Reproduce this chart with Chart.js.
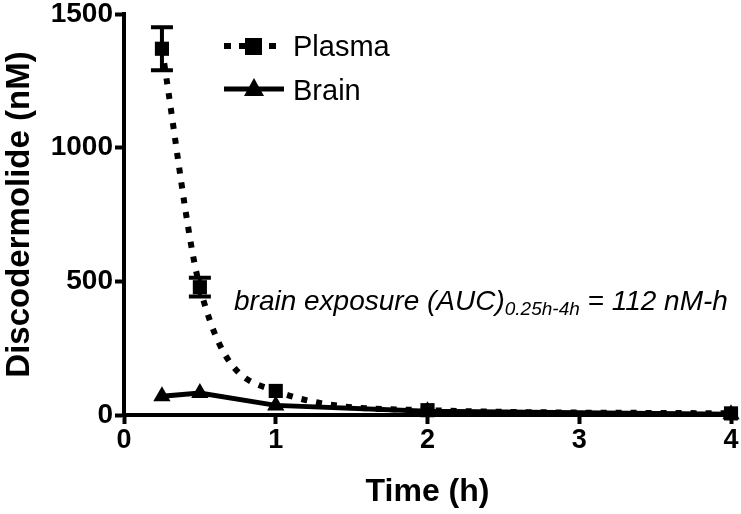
<!DOCTYPE html>
<html><head><meta charset="utf-8">
<script src="https://cdn.jsdelivr.net/npm/chart.js@4/dist/chart.umd.min.js"></script>
<style>html,body{margin:0;padding:0;background:#fff}#wrap{width:741px;height:514px}</style>
</head><body><div id="wrap"><canvas id="c" width="741" height="514"></canvas></div>
<script>
const times = [0.25, 0.5, 1, 2, 4];
const plasma = [1370, 478, 90, 18, 6];
const plasmaErr = [80, 35, 12, 4, 2];
const brain = [70, 82, 36, 14, 3];
const xTicks = [0, 1, 2, 3, 4];
const yTicks = [0, 500, 1000, 1500];
const seriesNames = ['Plasma', 'Brain'];
const annotation = {pre: 'brain exposure (AUC)', sub: '0.25h-4h', post: ' = 112 nM-h'};

const FONT = '"Liberation Sans", Arial, sans-serif';

const errorBars = {
  id: 'errorBars',
  afterDatasetsDraw(chart) {
    const ctx = chart.ctx, x = chart.scales.x, y = chart.scales.y;
    ctx.save();
    ctx.strokeStyle = '#000'; ctx.lineWidth = 4; ctx.lineCap = 'butt';
    times.forEach((t, i) => {
      const e = plasmaErr[i]; if (!e) return;
      const px = x.getPixelForValue(t);
      const top = y.getPixelForValue(plasma[i] + e), bot = y.getPixelForValue(plasma[i] - e);
      if (bot - top < 14) return;
      ctx.beginPath();
      ctx.moveTo(px, top); ctx.lineTo(px, bot);
      ctx.moveTo(px - 11, top); ctx.lineTo(px + 11, top);
      ctx.moveTo(px - 11, bot); ctx.lineTo(px + 11, bot);
      ctx.stroke();
    });
    ctx.restore();
  }
};

const legendAndText = {
  id: 'legendAndText',
  afterDraw(chart) {
    const ctx = chart.ctx;
    ctx.save();
    ctx.fillStyle = '#000'; ctx.strokeStyle = '#000';
    // Plasma legend
    ctx.lineWidth = 6; ctx.setLineDash([7, 8]);
    ctx.beginPath(); ctx.moveTo(224, 46); ctx.lineTo(284, 46); ctx.stroke();
    ctx.setLineDash([]);
    ctx.fillRect(245, 38, 17, 17);
    // Brain legend
    ctx.lineWidth = 5;
    ctx.beginPath(); ctx.moveTo(224, 89); ctx.lineTo(284, 89); ctx.stroke();
    ctx.beginPath(); ctx.moveTo(254, 78); ctx.lineTo(264, 96); ctx.lineTo(244, 96); ctx.closePath(); ctx.fill();
    ctx.font = '29px ' + FONT; ctx.textBaseline = 'alphabetic'; ctx.textAlign = 'left';
    ctx.fillText(seriesNames[0], 293, 56);
    ctx.fillText(seriesNames[1], 293, 100);
    // annotation
    let ax = 234, ay = 310;
    ctx.font = 'italic 28px ' + FONT;
    ctx.fillText(annotation.pre, ax, ay); ax += ctx.measureText(annotation.pre).width;
    ctx.font = 'italic 19px ' + FONT;
    ctx.fillText(annotation.sub, ax, ay + 5); ax += ctx.measureText(annotation.sub).width;
    ctx.font = 'italic 28px ' + FONT;
    ctx.fillText(annotation.post, ax, ay);
    ctx.restore();
  }
};

new Chart(document.getElementById('c'), {
  type: 'line',
  data: {
    datasets: [
      {
        label: seriesNames[0],
        data: times.map((t, i) => ({x: t, y: plasma[i]})),
        borderColor: '#000', backgroundColor: '#000',
        borderWidth: 6, borderDash: [6, 9],
        cubicInterpolationMode: 'monotone',
        pointStyle: 'rect', pointRadius: 10, pointBorderWidth: 0,
        order: 1
      },
      {
        label: seriesNames[1],
        data: times.map((t, i) => ({x: t, y: brain[i]})),
        borderColor: '#000', backgroundColor: '#000',
        borderWidth: 5, tension: 0,
        pointStyle: 'triangle', pointRadius: 10, pointBorderWidth: 0,
        order: 2
      }
    ]
  },
  options: {
    responsive: false, animation: false,
    clip: false,
    layout: {padding: {top: 14, right: 3, left: 0, bottom: 0}},
    plugins: {legend: {display: false}, tooltip: {enabled: false}},
    scales: {
      x: {
        type: 'linear', min: 0, max: 4,
        afterFit(s) { s.height = 99; s.paddingRight = 0; s.paddingLeft = 0; },
        afterBuildTicks(s) { s.ticks = xTicks.map(v => ({value: v})); },
        grid: {display: true, drawOnChartArea: false, drawTicks: true, tickLength: 9, tickWidth: 4, tickColor: '#000', color: '#000'},
        border: {display: true, color: '#000', width: 4},
        ticks: {color: '#000', font: {family: FONT, size: 27, weight: 'bold'}, padding: 0, maxRotation: 0, callback: v => String(v)},
        title: {display: true, text: 'Time (h)', color: '#000', font: {family: FONT, size: 32, weight: 'bold'}, padding: {top: 0, bottom: 3}}
      },
      y: {
        type: 'linear', min: 0, max: 1500,
        afterFit(s) { s.width = 124; s.paddingTop = 0; s.paddingBottom = 0; },
        afterBuildTicks(s) { s.ticks = yTicks.map(v => ({value: v})); },
        grid: {display: true, drawOnChartArea: false, drawTicks: true, tickLength: 9, tickWidth: 4, tickColor: '#000', color: '#000'},
        border: {display: true, color: '#000', width: 4},
        ticks: {color: '#000', font: {family: FONT, size: 28, weight: 'bold'}, padding: 2, callback: v => String(v)},
        title: {display: true, text: 'Discodermolide (nM)', color: '#000', font: {family: FONT, size: 33, weight: 'bold'}, padding: {top: 0, bottom: 0}}
      }
    }
  },
  plugins: [errorBars, legendAndText]
});
</script></body></html>
